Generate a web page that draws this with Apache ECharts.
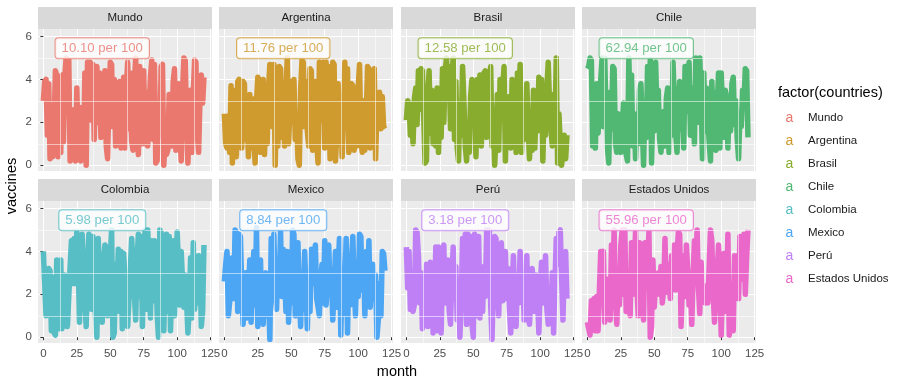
<!DOCTYPE html>
<html><head><meta charset="utf-8">
<script src="https://cdn.jsdelivr.net/npm/echarts@6/dist/echarts.min.js"></script>
<style>html,body{margin:0;padding:0;background:#fff}#c{width:905px;height:387px}</style>
</head><body><div id="c"></div>
<script>
const countries = ['Mundo','Argentina','Brasil','Chile','Colombia','Mexico','Perú','Estados Unidos'];
const rateLabels = ['10.10 per 100','11.76 per 100','12.58 per 100','62.94 per 100','5.98 per 100','8.84 per 100','3.18 per 100','55.96 per 100'];
const colors = ['#EA786E','#CF9A2E','#88AC2E','#50B873','#56BEC4','#4DA6F4','#BF80F5','#EA68C9'];
const xTicks = [0,25,50,75,100,125];
const yTicks = [0,2,4,6];
const labelX = 44, labelY = 5.45;

const mundo = [3.0,3.9,4.0,1.4,3.8,0.3,2.2,0.4,1.8,4.4, 4.2,0.4,3.1,0.6,4.2,1.1,4.1,5.0,3.2,4.9, 0.2,1.9,0.3,2.6,0.2,3.6,0.9,2.7,0.2,1.7, 0.4,4.3,0.0,4.8,3.5,4.8,2.1,4.7,1.2,3.4, 4.6,2.0,4.3,1.3,3.7,2.4,4.4,0.9,0.3,3.1, 4.8,4.7,1.8,4.0,0.9,3.8,2.6,3.9,0.8,2.2, 4.1,0.8,3.5,4.8,1.7,4.3,1.1,0.7,3.9,5.0, 1.6,0.5,4.6,2.9,1.0,4.4,1.0,3.4,0.9,2.5, 4.1,4.9,1.2,4.7,0.1,0.2,2.8,1.4,4.6,4.7, 0.0,1.3,0.5,0.7,3.3,3.2,0.9,3.9,4.5,0.7, 2.8,3.8,1.4,0.2,3.5,5.0,4.9,2.0,0.1,1.7, 3.5,0.6,3.3,4.9,4.8,1.5,0.6,3.0,4.2,2.9, 4.1];
const argentina = [2.4,1.0,0.8,2.3,0.6,3.7,0.1,3.5,1.7,0.4, 3.9,4.0,1.9,0.8,3.9,3.8,1.2,2.2,0.4,3.3, 0.8,3.1,1.3,0.1,2.9,4.1,4.0,0.6,1.5,4.0, 0.5,2.4,1.0,3.6,4.7,4.6,1.8,4.7,0.0,2.9, 0.9,4.6,4.5,1.3,3.0,0.9,3.4,5.0,1.0,2.6, 3.9,2.0,4.0,1.2,2.2,0.3,0.0,3.5,4.9,4.8, 1.8,3.9,1.6,0.9,4.5,4.4,0.7,2.8,3.9,1.1, 0.1,4.8,4.7,2.1,4.8,0.8,4.8,1.6,4.6,0.3, 2.7,4.8,4.7,0.2,1.4,3.8,1.0,3.3,0.4,2.5, 4.8,1.9,4.5,0.6,2.3,3.8,3.7,0.7,1.8,0.9, 3.6,4.7,1.3,0.6,3.0,0.7,2.2,4.6,4.5,0.8, 3.4,1.5,4.5,0.3,2.6,1.7,3.4,1.7,3.2,1.8, 1.7];
const brasil = [2.1,3.0,2.9,1.4,2.8,1.0,3.1,3.6,1.9,4.4, 2.6,4.5,4.4,2.2,0.1,0.2,3.2,4.4,1.5,3.5, 1.0,3.4,0.9,3.6,0.6,2.5,1.3,4.5,2.0,4.4, 5.0,3.3,4.6,1.7,4.1,5.0,1.2,3.9,0.8,0.2, 2.9,1.4,4.6,3.0,0.9,0.2,1.9,0.6,3.2,4.0, 2.5,3.5,0.4,4.0,1.8,4.2,0.9,3.0,4.3,4.4, 1.3,2.7,3.9,4.6,0.9,2.2,0.0,1.4,3.3,0.7, 4.0,2.1,3.6,4.6,0.2,2.6,1.1,3.2,0.8,4.0, 1.9,3.7,0.6,4.3,2.4,4.7,0.6,3.0,1.2,2.0, 3.8,1.6,0.3,2.4,0.7,3.5,0.8,2.9,1.6,4.1, 2.3,4.0,0.2,3.0,1.4,3.6,4.8,2.8,1.8,0.9, 3.3,1.6,5.0,0.1,2.4,1.0,0.0,0.8,1.4,0.3, 1.4];
const chile = [4.5,4.6,5.0,4.9,0.9,3.0,0.8,3.8,1.5,2.6, 4.0,5.0,1.8,5.0,2.2,0.8,0.1,3.4,1.7,4.6, 4.5,1.0,0.6,2.4,0.9,0.6,1.6,2.9,1.5,0.5, 0.2,5.0,2.3,4.2,0.9,2.4,0.3,2.1,1.0,3.5, 3.8,1.9,0.0,2.8,1.3,4.6,2.5,4.9,0.1,3.0, 1.6,4.8,2.6,3.5,1.2,0.6,1.9,2.5,0.9,3.1, 3.6,0.6,2.2,1.4,4.8,3.0,1.5,0.6,2.7,3.9, 1.7,3.3,0.8,4.6,2.5,3.8,4.8,1.4,3.6,2.4, 1.0,5.0,4.9,2.0,5.0,3.1,0.3,4.3,1.6,3.6, 2.2,1.1,0.2,3.9,1.9,3.4,0.7,2.6,4.3,0.8, 4.3,2.7,1.3,3.5,3.2,0.8,2.9,1.6,3.8,4.1, 1.9,3.0,1.2,0.3,2.4,1.8,3.5,2.9,4.5,4.4, 1.3];
const colombia = [4.0,4.0,1.0,1.1,3.2,3.1,0.3,2.8,0.2,0.1, 3.6,3.6,0.4,3.6,0.4,1.2,2.9,2.9,0.5,0.5, 3.3,4.5,2.5,4.6,2.5,4.9,3.6,0.7,2.8,4.8, 4.8,1.7,0.5,3.0,4.8,4.7,1.3,4.7,2.4,0.9, 0.0,4.6,2.9,1.6,0.7,3.5,4.3,4.2,1.0,1.8, 3.8,5.0,0.0,0.2,3.4,2.2,4.1,1.2,4.0,0.4, 3.9,3.9,1.4,0.5,1.8,3.2,4.6,4.6,2.0,0.8, 3.6,4.8,1.9,4.7,0.5,2.9,5.0,1.3,5.0,3.3, 0.9,4.5,1.7,4.5,4.4,1.1,0.0,5.0,4.9,2.1, 0.3,3.0,4.8,1.2,4.7,0.3,2.4,4.5,1.0,3.1, 4.9,4.9,1.5,4.0,2.6,1.4,2.9,1.7,0.2,1.3, 3.7,0.9,4.4,1.3,2.7,1.6,3.8,3.7,0.5,1.2, 4.3];
const mexico = [2.6,3.4,4.0,1.0,1.0,2.3,3.7,1.8,5.0,4.9, 1.2,4.8,4.7,2.4,0.6,1.9,3.0,0.9,2.1,3.6, 0.7,2.6,4.0,1.5,5.1,0.5,2.0,3.6,1.1,0.6, 2.6,3.0,1.0,1.9,-0.1,4.6,1.7,4.8,2.0,1.3, 3.6,2.5,4.9,1.9,4.1,3.2,1.2,4.0,0.7,2.4, 1.6,5.0,4.8,1.0,2.3,4.4,1.9,0.5,2.8,1.3, 4.0,2.2,0.4,3.1,1.2,4.1,2.5,3.5,4.3,1.8, 1.4,1.0,2.7,3.4,1.6,4.5,1.5,2.6,4.3,2.0, 3.0,0.8,2.2,4.0,1.4,3.3,4.6,0.1,3.0,1.1, 2.4,4.6,0.2,2.9,1.5,3.6,4.7,2.3,1.0,3.4, 1.9,4.8,4.7,2.2,3.5,1.0,4.0,2.4,4.5,1.4, 2.6,3.4,1.8,2.9,0.0,0.8,2.5,1.0,4.0,3.9, 3.1];
const peru = [4.2,2.3,4.0,1.3,2.7,1.2,1.5,5.0,4.9,3.8, 1.6,3.0,0.4,1.1,2.2,3.4,0.5,1.6,3.5,2.1, 0.2,1.4,4.2,0.3,4.2,2.7,0.2,3.1,4.3,1.6, 2.5,3.6,1.2,0.6,2.8,4.2,1.9,3.3,0.8,2.4, 0.0,1.7,4.6,2.0,4.8,0.6,4.8,3.1,4.7,0.6, 0.0,4.8,2.4,1.0,4.7,0.9,2.8,1.2,3.3,1.9, 5.0,3.6,5.0,1.5,-0.1,2.3,4.7,4.6,2.1,1.0, 3.4,4.4,1.7,2.6,4.0,1.8,3.2,1.3,0.2,2.2, 3.8,1.4,0.5,2.9,1.6,4.0,2.3,3.1,0.8,2.0, 3.8,1.0,0.6,1.8,3.2,2.4,1.2,2.9,1.9,0.2, 2.3,3.5,1.6,2.7,3.8,1.3,0.6,2.2,1.0,3.0, 0.2,2.5,4.6,3.4,4.9,5.0,2.8,0.8,3.1,4.0, 1.8];
const estadosUnidos = [0.7,0.4,0.1,1.7,1.0,1.8,0.3,1.9,0.3,2.2, 4.0,3.9,4.0,0.7,1.3,2.7,1.6,0.8,4.3,2.5, 5.0,1.6,0.6,2.9,1.5,4.3,5.0,2.0,5.0,1.2, 2.6,1.8,1.0,4.4,2.0,3.2,4.9,2.4,1.0,4.4, 2.8,1.5,0.8,4.4,2.6,3.5,4.9,0.0,0.5,3.6, 1.4,2.6,2.0,3.0,2.0,3.3,1.6,2.2,4.6,2.1, 3.4,2.6,1.8,3.8,2.9,4.3,2.2,3.9,4.9,4.8, 0.5,2.4,3.8,1.9,4.3,3.1,1.5,2.5,0.6,2.8, 4.5,3.2,5.0,2.3,1.1,3.5,1.9,2.4,1.6,2.3, 1.6,3.3,5.0,4.5,2.0,0.7,1.9,3.0,4.3,2.6, 0.1,2.3,3.9,1.2,1.8,4.8,0.1,2.5,1.3,0.3, 3.8,2.9,3.8,1.8,4.7,3.4,2.7,4.8,2.0,3.7, 5.0];
const seriesValues = [mundo, argentina, brasil, chile, colombia, mexico, peru, estadosUnidos];

// layout
const FONT = '"Liberation Sans", Arial, Helvetica, sans-serif';
const panelLefts = [38, 219, 401, 582];
const panelTops = [29, 201];
const PW = 174, PH = 142, STRIP = 22;

const grids = [], xAxes = [], yAxes = [], series = [], graphics = [];
const minorX = [12.5, 37.5, 62.5, 87.5, 112.5];
const minorY = [1, 3, 5];

countries.forEach((name, i) => {
  const row = Math.floor(i / 4), col = i % 4;
  const left = panelLefts[col], top = panelTops[row];
  grids.push({left: left, top: top, width: PW, height: PH, show: true, backgroundColor: '#EBEBEB', borderWidth: 0, containLabel: false});
  xAxes.push({
    gridIndex: i, type: 'value', min: -4, max: 126,
    axisLine: {show: false},
    axisTick: {show: row === 1, length: 3, lineStyle: {color: '#333333', width: 1}, customValues: xTicks},
    axisLabel: {show: row === 1, customValues: xTicks, fontSize: 11.5, color: '#4D4D4D', fontFamily: FONT, margin: 5, hideOverlap: false, showMinLabel: true, showMaxLabel: true},
    splitLine: {show: true, lineStyle: {color: '#FFFFFF', width: 1.1}}
  });
  yAxes.push({
    gridIndex: i, type: 'value', min: -0.27, max: 6.35,
    axisLine: {show: false},
    axisTick: {show: col === 0, length: 3, lineStyle: {color: '#333333', width: 1}, customValues: yTicks},
    axisLabel: {show: col === 0, customValues: yTicks, fontSize: 11.5, color: '#4D4D4D', fontFamily: FONT, margin: 6},
    splitLine: {show: true, lineStyle: {color: '#FFFFFF', width: 1.1}}
  });
  // minor gridlines
  series.push({
    type: 'line', xAxisIndex: i, yAxisIndex: i, data: [], z: 1, silent: true,
    markLine: {
      silent: true, symbol: 'none', animation: false,
      label: {show: false},
      lineStyle: {color: '#FFFFFF', width: 0.55, type: 'solid'},
      data: minorX.map(v => ({xAxis: v})).concat(minorY.map(v => ({yAxis: v})))
    }
  });
  series.push({
    type: 'line', name: name, xAxisIndex: i, yAxisIndex: i, z: 2,
    data: seriesValues[i].map((v, m) => [m, v]),
    showSymbol: false, symbol: 'none',
    lineStyle: {color: colors[i], width: 5.5, join: 'round', cap: 'butt'},
    itemStyle: {color: colors[i]}
  });
  series.push({
    type: 'scatter', xAxisIndex: i, yAxisIndex: i, z: 5, silent: true,
    symbolSize: 1, itemStyle: {color: 'rgba(0,0,0,0)'},
    data: [[labelX, labelY]],
    label: {
      show: true, position: 'inside', formatter: rateLabels[i],
      color: colors[i], fontSize: 13.2, fontFamily: FONT,
      backgroundColor: '#FFFFFF', borderColor: colors[i], borderWidth: 1, borderRadius: 3,
      padding: [3, 6, 3, 6], lineHeight: 14
    }
  });
  // strip
  graphics.push({type: 'rect', shape: {x: left, y: top - STRIP, width: PW, height: STRIP}, style: {fill: '#D9D9D9'}, silent: true});
  graphics.push({type: 'text', x: left + PW / 2, y: top - STRIP / 2, silent: true,
    style: {text: name, align: 'center', verticalAlign: 'middle', fill: '#1A1A1A', fontSize: 11.5, fontFamily: FONT}});
});

// axis titles
graphics.push({type: 'text', x: 397, y: 372, silent: true, style: {text: 'month', align: 'center', verticalAlign: 'middle', fill: '#000', fontSize: 14.5, fontFamily: FONT}});
graphics.push({type: 'text', x: 12, y: 186, rotation: Math.PI / 2, silent: true, style: {text: 'vaccines', align: 'center', verticalAlign: 'middle', fill: '#000', fontSize: 14.5, fontFamily: FONT}});

// legend
graphics.push({type: 'text', x: 778, y: 93, silent: true, style: {text: 'factor(countries)', align: 'left', verticalAlign: 'middle', fill: '#000', fontSize: 14.5, fontFamily: FONT}});
countries.forEach((name, i) => {
  const y = 118 + 23.0 * i;
  graphics.push({type: 'text', x: 789.5, y: y, silent: true, style: {text: 'a', align: 'center', verticalAlign: 'middle', fill: colors[i], fontSize: 14, fontFamily: FONT}});
  graphics.push({type: 'text', x: 808, y: y, silent: true, style: {text: name, align: 'left', verticalAlign: 'middle', fill: '#1A1A1A', fontSize: 11.5, fontFamily: FONT}});
});

const chart = echarts.init(document.getElementById('c'), null, {renderer: 'canvas'});
chart.setOption({
  animation: false,
  backgroundColor: '#FFFFFF',
  grid: grids, xAxis: xAxes, yAxis: yAxes, series: series,
  graphic: graphics
});
</script></body></html>
